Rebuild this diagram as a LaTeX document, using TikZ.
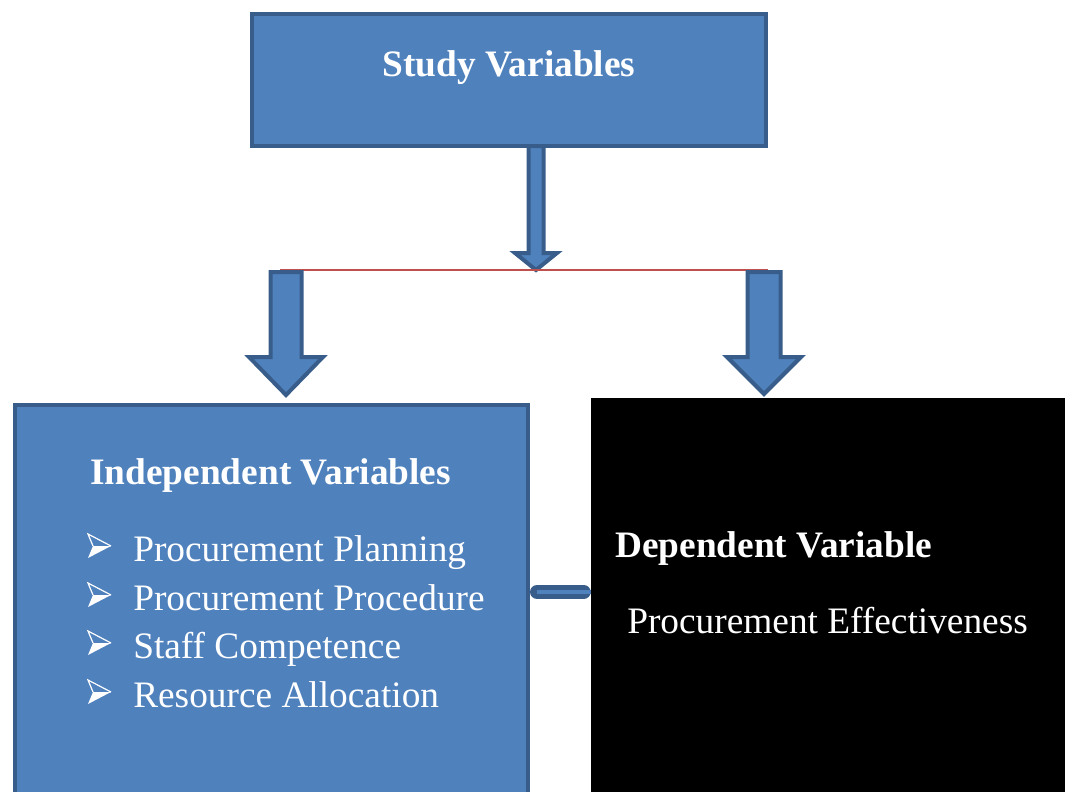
\documentclass[tikz,border=0pt]{standalone}
\usepackage{fontspec}
\setmainfont{Liberation Serif}
\usetikzlibrary{fit}

\definecolor{boxblue}{RGB}{79,129,189}
\definecolor{edgeblue}{RGB}{56,93,138}
\definecolor{linered}{RGB}{192,80,77}

\tikzset{
  varbox/.style={draw=edgeblue, line width=3pt, fill=boxblue, inner sep=0pt},
  depbox/.style={fill=black, inner sep=0pt},
  blockarrow/.style={draw=edgeblue, line width=3pt, fill=boxblue, line join=miter},
  heading/.style={text=white, font=\bfseries\fontsize{28}{32}\selectfont, inner sep=0pt},
  itemtext/.style={text=white, font=\fontsize{28}{32}\selectfont, anchor=base west, inner sep=0pt},
}

% centre x, top y, tip y, half shaft, half head, head length
\newcommand{\blockarrow}[6]{%
  \draw[blockarrow] (#1-#4,#2) -- (#1-#4,#3-#6) -- (#1-#5,#3-#6) -- (#1,#3)
    -- (#1+#5,#3-#6) -- (#1+#4,#3-#6) -- (#1+#4,#2) -- cycle;}
% arrowhead bullet at baseline y
\newcommand{\itembullet}[1]{%
  \fill[white] (111,#1-15) -- (88,#1-3) -- (93,#1-15) -- cycle;
  \draw[white, line width=0.9pt, line join=miter] (111,#1-15) -- (88,#1-27) -- (93,#1-15);}

\begin{document}
\begin{tikzpicture}[x=0.75pt, y=-0.75pt]
  \useasboundingbox (0,0) rectangle (1071,792);
  \clip (0,0) rectangle (1071,792);

  % boxes
  \node[varbox, fit={(252,14) (766,146)}] (study) {};
  \node[varbox, fit={(15,404.5) (527.5,840)}] (indep) {};
  \node[depbox, fit={(591,398) (1065,840)}] (dep) {};

  % arrows
  \blockarrow{536}{146}{270}{7.5}{21}{17}
  \draw[linered, line width=1.5pt] (280,270) -- (768,270);
  \blockarrow{286}{272}{395}{15.5}{37}{38}
  \blockarrow{764}{272}{394}{16.5}{37}{37}

  % link between the two boxes
  \coordinate (linkstart) at (537,592);
  \draw[edgeblue, line width=10.5pt, line cap=round, shorten >=5.25pt] (linkstart) -- (dep.west |- linkstart);
  \draw[boxblue, line width=3.5pt] (linkstart) -- (dep.west |- linkstart);

  % texts
  \node[heading, anchor=base] (studylbl) at (509,77) {Study Variables};
  \node[heading, anchor=base west] (indeplbl) at (90,484) {Independent Variables};
  \itembullet{561}
  \node[itemtext] (i1) at (133,561) {Procurement Planning};
  \itembullet{610}
  \node[itemtext] (i2) at (133,610) {Procurement Procedure};
  \itembullet{658}
  \node[itemtext] (i3) at (133,658) {Staff Competence};
  \itembullet{707}
  \node[itemtext] (i4) at (133,707) {Resource Allocation};
  \node[heading, anchor=base west] (deplbl) at (615,557) {Dependent Variable};
  \node[itemtext] (effect) at (627,633) {Procurement Effectiveness};
\end{tikzpicture}
\end{document}
